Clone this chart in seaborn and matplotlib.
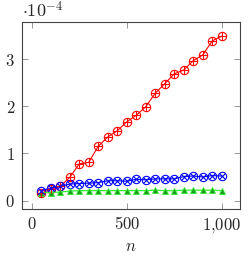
import matplotlib

matplotlib.use("Agg")
import matplotlib.pyplot as plt
import numpy as np
import pandas as pd
import seaborn as sns

# Data (y values in units of 1e-4)
n_values = [50, 100, 150, 200, 250, 300, 350, 400, 450, 500,
            550, 600, 650, 700, 750, 800, 850, 900, 950, 1000]
red_values = [0.16, 0.24, 0.30, 0.49, 0.78, 0.81, 1.15, 1.35, 1.48, 1.67,
              1.81, 1.99, 2.28, 2.48, 2.69, 2.77, 2.97, 3.09, 3.39, 3.49]
blue_values = [0.21, 0.26, 0.30, 0.35, 0.36, 0.37, 0.38, 0.42, 0.42, 0.41,
               0.45, 0.44, 0.46, 0.46, 0.46, 0.51, 0.52, 0.50, 0.53, 0.52]
green_values = [0.17, 0.17, 0.18, 0.20, 0.21, 0.21, 0.21, 0.21, 0.21, 0.21,
                0.21, 0.21, 0.22, 0.21, 0.21, 0.22, 0.22, 0.22, 0.22, 0.21]
x_ticks = [0, 500, 1000]
x_tick_labels = ["$0$", "$500$", "$1{,}000$"]
y_ticks = [0, 1, 2, 3]
y_tick_labels = ["$0$", "$1$", "$2$", "$3$"]

RED = "#ff0000"
BLUE = "#0000ff"
GREEN_LINE = "#33ee33"
GREEN_MARK = "#1c9c1c"

sns.set_style("white")
plt.rcParams["mathtext.fontset"] = "cm"
plt.rcParams["font.family"] = ["DejaVu Serif"]

data = pd.DataFrame({
    "n": n_values,
    "red": red_values,
    "blue": blue_values,
    "green": green_values,
})

fig = plt.figure(figsize=(2.5, 2.59), dpi=100)
ax = fig.add_axes([0.088, 0.193, 0.872, 0.722])

# red: oplus markers
sns.lineplot(data=data, x="n", y="red", color=RED, lw=0.8, marker="o",
             markersize=6, markerfacecolor="none", markeredgecolor=RED,
             markeredgewidth=0.8, ax=ax)
sns.scatterplot(data=data, x="n", y="red", marker="+", s=36, color=RED,
                linewidth=0.8, ax=ax, zorder=3)

# blue: otimes markers
sns.lineplot(data=data, x="n", y="blue", color=BLUE, lw=0.8, marker="o",
             markersize=6, markerfacecolor="none", markeredgecolor=BLUE,
             markeredgewidth=0.8, ax=ax)
sns.scatterplot(data=data, x="n", y="blue", marker="x", s=18, color=BLUE,
                linewidth=0.8, ax=ax, zorder=3)

# green: filled triangles
sns.lineplot(data=data, x="n", y="green", color=GREEN_LINE, lw=0.9, marker="^",
             markersize=5, markerfacecolor=GREEN_MARK,
             markeredgecolor=GREEN_LINE, markeredgewidth=0.6, ax=ax)

ax.set_xlim(-51, 1096)
ax.set_ylim(-0.18, 3.79)
ax.set_xticks(x_ticks)
ax.set_xticklabels(x_tick_labels)
ax.set_yticks(y_ticks)
ax.set_yticklabels(y_tick_labels)
ax.tick_params(axis="both", direction="in", length=4, width=0.6,
               color="#888888", labelsize=12, top=True, right=True,
               bottom=True, left=True, pad=5)
for spine in ax.spines.values():
    spine.set_visible(True)
    spine.set_color("#444444")
    spine.set_linewidth(0.8)

ax.set_xlabel("$n$", fontsize=12, labelpad=2)
ax.set_ylabel("")
ax.text(0.0, 1.005, r"$\cdot 10^{-4}$", transform=ax.transAxes,
        fontsize=13, ha="left", va="bottom")

fig.savefig("out.png", dpi=100)
plt.close(fig)
